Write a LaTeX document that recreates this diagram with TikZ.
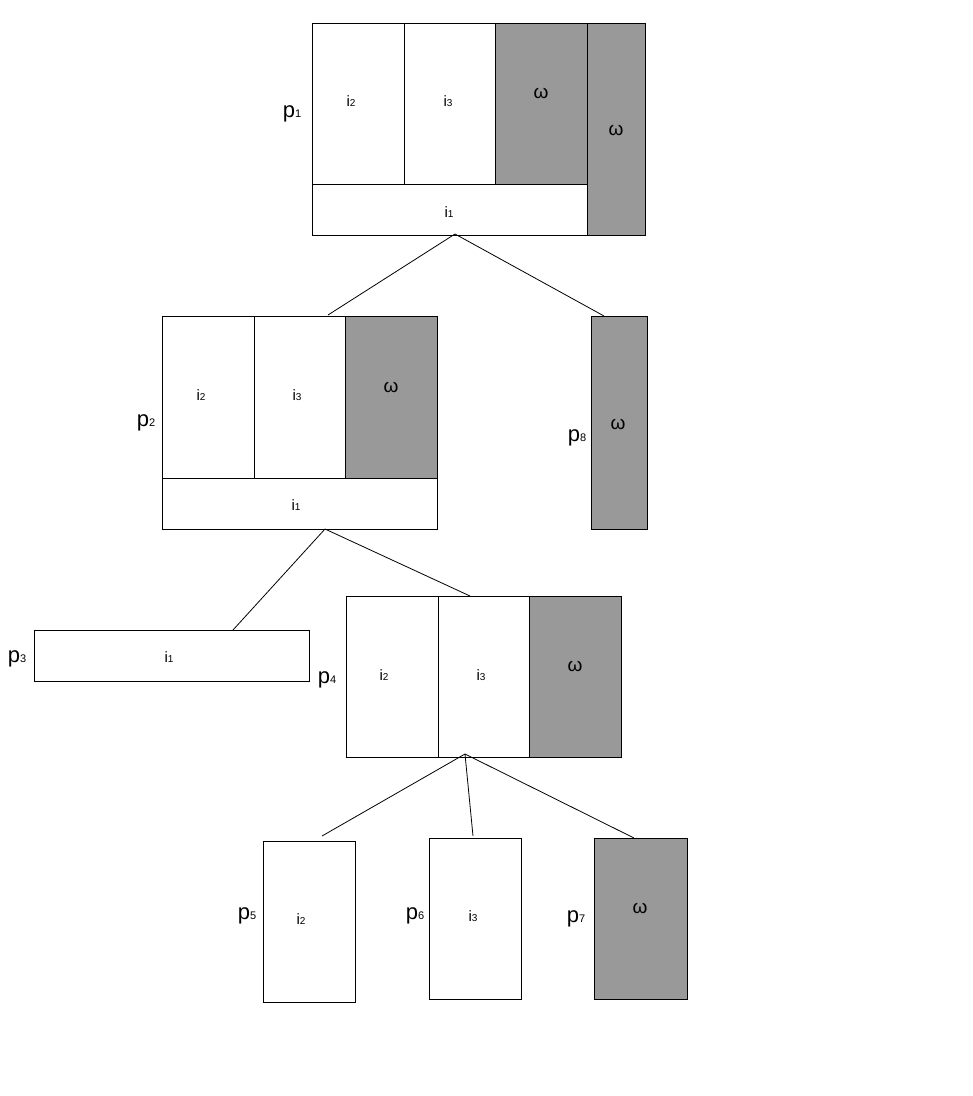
\documentclass[tikz,border=0pt]{standalone}
\usepackage{fontspec}
\setmainfont{Liberation Sans}
\definecolor{cellgray}{RGB}{153,153,153}
\newcommand{\pl}[1]{{\fontsize{22}{22}\selectfont p}{\fontsize{11}{11}\selectfont #1}}
\newcommand{\il}[1]{{\fontsize{15}{15}\selectfont i}{\fontsize{10}{10}\selectfont #1}}
\newcommand{\om}{{\fontsize{19}{19}\selectfont ω}}
\begin{document}
\begin{tikzpicture}[x=1pt,y=-1pt,
  cell/.style={draw=black, line width=0.9pt, fill=white, inner sep=0pt, anchor=north west},
  graycell/.style={cell, fill=cellgray},
  txt/.style={inner sep=0pt, anchor=base},
  plab/.style={inner sep=0pt, anchor=base},
  conn/.style={draw=black, line width=0.8pt}]
\useasboundingbox (0,0) rectangle (973,1096);
% ---------- p1 ----------
\node[cell, minimum width=92pt, minimum height=161pt] (p1a) at (312,23) {};
\node[cell, minimum width=91pt, minimum height=161pt] (p1b) at (404,23) {};
\node[graycell, minimum width=92pt, minimum height=161pt] (p1c) at (495,23) {};
\node[graycell, minimum width=58pt, minimum height=212pt] (p1d) at (587,23) {};
\node[cell, minimum width=275pt, minimum height=51pt] (p1e) at (312,184) {};
\node[txt] (t1a) at (351,106) {\il{2}};
\node[txt] (t1b) at (448,106) {\il{3}};
\node[txt] (t1c) at (541,98) {\om};
\node[txt] (t1d) at (616,135) {\om};
\node[txt] (t1e) at (449,217) {\il{1}};
\node[plab] (l1) at (292,117) {\pl{1}};
% ---------- p2 ----------
\node[cell, minimum width=92pt, minimum height=162pt] (p2a) at (162,316) {};
\node[cell, minimum width=91pt, minimum height=162pt] (p2b) at (254,316) {};
\node[graycell, minimum width=92pt, minimum height=162pt] (p2c) at (345,316) {};
\node[cell, minimum width=275pt, minimum height=51pt] (p2e) at (162,478) {};
\node[txt] (t2a) at (201,400) {\il{2}};
\node[txt] (t2b) at (297,400) {\il{3}};
\node[txt] (t2c) at (391,392) {\om};
\node[txt] (t2e) at (296,510) {\il{1}};
\node[plab] (l2) at (146,426) {\pl{2}};
% ---------- p8 ----------
\node[graycell, minimum width=56pt, minimum height=213pt] (p8) at (591,316) {};
\node[txt] (t8) at (618,429) {\om};
\node[plab] (l8) at (577,441) {\pl{8}};
% ---------- p3 ----------
\node[cell, minimum width=275pt, minimum height=51pt] (p3) at (34,630) {};
\node[txt] (t3) at (169,662) {\il{1}};
\node[plab] (l3) at (17,662) {\pl{3}};
% ---------- p4 ----------
\node[cell, minimum width=92pt, minimum height=161pt] (p4a) at (346,596) {};
\node[cell, minimum width=91pt, minimum height=161pt] (p4b) at (438,596) {};
\node[graycell, minimum width=92pt, minimum height=161pt] (p4c) at (529,596) {};
\node[txt] (t4a) at (384,680) {\il{2}};
\node[txt] (t4b) at (481,680) {\il{3}};
\node[txt] (t4c) at (575,671) {\om};
\node[plab] (l4) at (327,683) {\pl{4}};
% ---------- p5, p6, p7 ----------
\node[cell, minimum width=92pt, minimum height=161pt] (p5) at (263,841) {};
\node[txt] (t5) at (301,924) {\il{2}};
\node[plab] (l5) at (247,919) {\pl{5}};
\node[cell, minimum width=92pt, minimum height=161pt] (p6) at (429,838) {};
\node[txt] (t6) at (473,921) {\il{3}};
\node[plab] (l6) at (415,919) {\pl{6}};
\node[graycell, minimum width=93pt, minimum height=161pt] (p7) at (594,838) {};
\node[txt] (t7) at (640,913) {\om};
\node[plab] (l7) at (576,922) {\pl{7}};
% ---------- connector end points ----------
\coordinate (j1) at (455,234);
\coordinate (e2) at (328,315);
\coordinate (e8) at (604,316);
\coordinate (j2) at (325,529);
\coordinate (e3) at (233,630);
\coordinate (e4) at (470,596);
\coordinate (j4) at (465,754);
\coordinate (e5) at (322,836);
\coordinate (e6) at (473,836);
\coordinate (e7) at (634,838);
\draw[conn] (j1) -- (e2);
\draw[conn] (j1) -- (e8);
\draw[conn] (j2) -- (e3);
\draw[conn] (j2) -- (e4);
\draw[conn] (j4) -- (e5);
\draw[conn] (j4) -- (e6);
\draw[conn] (j4) -- (e7);
\end{tikzpicture}
\end{document}
